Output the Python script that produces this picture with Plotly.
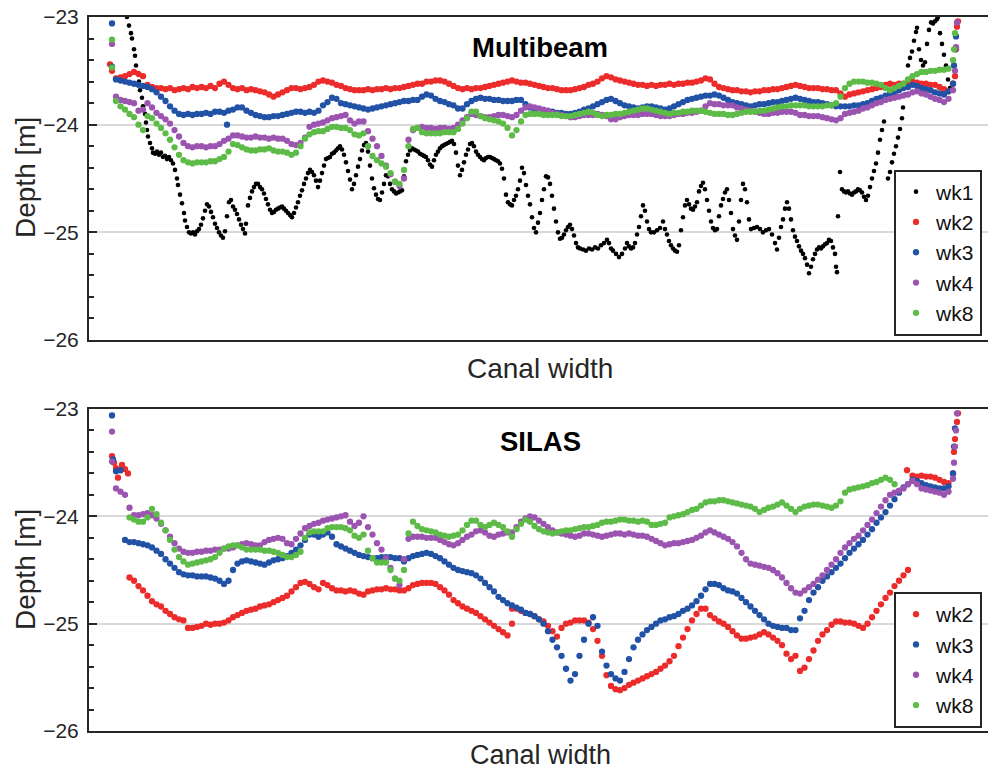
import numpy as np
import plotly.graph_objects as go

# ---------------------------------------------------------------------------
# Cross-canal sampling stations (distance across the canal, dm)
# ---------------------------------------------------------------------------
STATIONS = np.arange(27.0, 864.01, 4.5)          # 187 stations
X_RANGE = [0, 899]
Y_RANGE = [-26, -23]

# ---------------------------------------------------------------------------
# Multibeam survey depths (m) at each station, weeks 2, 3, 4, 8
# ---------------------------------------------------------------------------
MB_WK2 = [
    -23.57, -23.56, -23.55, -23.53, -23.51, -23.53, -23.55, -23.63, -23.65, -23.66,
    -23.66, -23.67, -23.66, -23.68, -23.67, -23.66, -23.67, -23.65, -23.66, -23.65,
    -23.66, -23.64, -23.66, -23.62, -23.60, -23.63, -23.66, -23.67, -23.66, -23.68,
    -23.67, -23.68, -23.69, -23.70, -23.72, -23.74, -23.72, -23.70, -23.68, -23.66,
    -23.66, -23.67, -23.66, -23.65, -23.63, -23.60, -23.59, -23.60, -23.61, -23.63,
    -23.64, -23.66, -23.67, -23.68, -23.68, -23.68, -23.67, -23.68, -23.67, -23.67,
    -23.66, -23.67, -23.66, -23.66, -23.65, -23.64, -23.63, -23.62, -23.62, -23.60,
    -23.60, -23.59, -23.59, -23.60, -23.62, -23.64, -23.66, -23.67, -23.66, -23.67,
    -23.66, -23.66, -23.65, -23.64, -23.63, -23.62, -23.61, -23.60, -23.59, -23.60,
    -23.61, -23.61, -23.62, -23.63, -23.64, -23.65, -23.66, -23.66, -23.67, -23.68,
    -23.68, -23.68, -23.67, -23.66, -23.65, -23.63, -23.62, -23.60, -23.57, -23.55,
    -23.56, -23.58, -23.59, -23.60, -23.61, -23.62, -23.63, -23.63, -23.64, -23.63,
    -23.64, -23.63, -23.63, -23.62, -23.63, -23.62, -23.62, -23.61, -23.61, -23.60,
    -23.59, -23.57, -23.58, -23.62, -23.65, -23.66, -23.67, -23.68, -23.68, -23.69,
    -23.69, -23.70, -23.69, -23.69, -23.68, -23.68, -23.67, -23.67, -23.66, -23.65,
    -23.64, -23.63, -23.64, -23.65, -23.66, -23.66, -23.66, -23.67, -23.67, -23.68,
    -23.68, -23.71, -23.74, -23.72, -23.71, -23.70, -23.69, -23.68, -23.67, -23.66,
    -23.65, -23.63, -23.62, -23.63, -23.62, -23.62, -23.61, -23.60, -23.61, -23.62,
    -23.62, -23.63, -23.63, -23.65, -23.67, -23.69, -23.62,
]
MB_WK3 = [
    -23.58, -23.59, -23.60, -23.61, -23.62, -23.63, -23.64, -23.65, -23.67, -23.70,
    -23.74, -23.78, -23.83, -23.87, -23.90, -23.91, -23.90, -23.91, -23.90, -23.90,
    -23.89, -23.90, -23.88, -23.88, -23.89, -23.87, -23.86, -23.84, -23.84, -23.87,
    -23.89, -23.91, -23.92, -23.93, -23.93, -23.92, -23.92, -23.91, -23.90, -23.89,
    -23.88, -23.88, -23.89, -23.88, -23.89, -23.87, -23.82, -23.79, -23.75, -23.76,
    -23.80, -23.81, -23.82, -23.83, -23.84, -23.85, -23.86, -23.85, -23.84, -23.83,
    -23.82, -23.81, -23.80, -23.79, -23.78, -23.78, -23.77, -23.77, -23.74, -23.72,
    -23.73, -23.76, -23.78, -23.79, -23.81, -23.82, -23.85, -23.85, -23.81, -23.78,
    -23.76, -23.75, -23.76, -23.76, -23.77, -23.77, -23.78, -23.78, -23.78, -23.77,
    -23.77, -23.81, -23.84, -23.86, -23.87, -23.87, -23.88, -23.88, -23.89, -23.89,
    -23.90, -23.90, -23.89, -23.88, -23.86, -23.85, -23.83, -23.81, -23.79, -23.77,
    -23.76, -23.78, -23.80, -23.82, -23.83, -23.84, -23.85, -23.84, -23.83, -23.83,
    -23.84, -23.85, -23.86, -23.85, -23.83, -23.81, -23.79, -23.77, -23.76, -23.75,
    -23.74, -23.73, -23.73, -23.72, -23.73, -23.75, -23.77, -23.79, -23.80, -23.81,
    -23.82, -23.83, -23.82, -23.81, -23.81, -23.80, -23.79, -23.79, -23.78, -23.77,
    -23.76, -23.75, -23.76, -23.77, -23.78, -23.79, -23.79, -23.80, -23.81, -23.82,
    -23.83, -23.83, -23.83, -23.83, -23.82, -23.82, -23.81, -23.80, -23.78, -23.76,
    -23.75, -23.73, -23.71, -23.70, -23.68, -23.66, -23.65, -23.63, -23.64, -23.66,
    -23.67, -23.68, -23.70, -23.71, -23.72, -23.69, -23.62,
]
MB_WK4 = [
    -23.74, -23.77, -23.78, -23.79, -23.80, -23.87, -23.86, -23.80, -23.84, -23.89,
    -23.92, -23.95, -23.99, -24.05, -24.11, -24.17, -24.20, -24.21, -24.20, -24.20,
    -24.21, -24.20, -24.20, -24.18, -24.15, -24.13, -24.10, -24.10, -24.11, -24.12,
    -24.12, -24.11, -24.12, -24.12, -24.13, -24.12, -24.13, -24.13, -24.15, -24.18,
    -24.19, -24.17, -24.12, -24.02, -24.00, -23.99, -23.98, -23.96, -23.94, -23.93,
    -23.92, -23.91, -23.96, -23.99, -23.97, -23.97, -24.06, -24.13, -24.20, -24.29,
    -24.38, -24.46, -24.53, -24.57, -24.50, -24.14, -24.05, -24.03, -24.02, -24.03,
    -24.03, -24.04, -24.03, -24.03, -24.04, -24.03, -24.00, -23.96, -23.93, -23.90,
    -23.91, -23.92, -23.93, -23.93, -23.92, -23.91, -23.91, -23.92, -23.93, -23.91,
    -23.87, -23.84, -23.83, -23.84, -23.85, -23.86, -23.87, -23.89, -23.90, -23.91,
    -23.92, -23.93, -23.93, -23.92, -23.91, -23.91, -23.91, -23.90, -23.91, -23.92,
    -23.95, -23.95, -23.93, -23.92, -23.91, -23.91, -23.91, -23.90, -23.90, -23.90,
    -23.91, -23.92, -23.92, -23.92, -23.91, -23.90, -23.90, -23.89, -23.89, -23.88,
    -23.87, -23.83, -23.80, -23.81, -23.81, -23.82, -23.82, -23.82, -23.84, -23.85,
    -23.86, -23.87, -23.88, -23.89, -23.90, -23.90, -23.89, -23.89, -23.88, -23.88,
    -23.88, -23.89, -23.91, -23.91, -23.92, -23.92, -23.92, -23.93, -23.94, -23.95,
    -23.96, -23.94, -23.90, -23.89, -23.88, -23.87, -23.85, -23.84, -23.82, -23.80,
    -23.79, -23.77, -23.76, -23.75, -23.74, -23.73, -23.72, -23.70, -23.69, -23.71,
    -23.72, -23.74, -23.76, -23.77, -23.79, -23.76, -23.68,
]
MB_WK8 = [
    -23.78, -23.83, -23.86, -23.90, -23.93, -24.00, -24.05, -23.92, -23.94, -23.99,
    -24.03, -24.08, -24.14, -24.21, -24.28, -24.33, -24.35, -24.36, -24.35, -24.35,
    -24.35, -24.34, -24.34, -24.32, -24.30, -24.25, -24.18, -24.19, -24.21, -24.23,
    -24.24, -24.24, -24.23, -24.23, -24.22, -24.24, -24.25, -24.25, -24.26, -24.28,
    -24.26, -24.20, -24.13, -24.09, -24.07, -24.06, -24.06, -24.04, -24.02, -24.02,
    -24.03, -24.03, -24.05, -24.09, -24.10, -24.08, -24.20, -24.29, -24.33, -24.36,
    -24.39, -24.45, -24.53, -24.55, -24.42, -24.20, -24.04, -24.03, -24.07, -24.08,
    -24.08, -24.08, -24.08, -24.07, -24.07, -24.07, -24.04, -23.99, -23.94, -23.88,
    -23.88, -23.92, -23.94, -23.95, -23.96, -23.97, -23.99, -24.03, -24.10, -24.05,
    -23.97, -23.91, -23.90, -23.90, -23.90, -23.91, -23.91, -23.91, -23.91, -23.92,
    -23.92, -23.92, -23.91, -23.90, -23.89, -23.88, -23.89, -23.91, -23.92, -23.91,
    -23.91, -23.90, -23.90, -23.89, -23.88, -23.87, -23.86, -23.85, -23.85, -23.86,
    -23.87, -23.88, -23.89, -23.90, -23.89, -23.89, -23.88, -23.88, -23.87, -23.87,
    -23.87, -23.88, -23.89, -23.90, -23.90, -23.90, -23.91, -23.91, -23.90, -23.89,
    -23.88, -23.88, -23.88, -23.87, -23.87, -23.86, -23.85, -23.84, -23.83, -23.83,
    -23.82, -23.82, -23.82, -23.82, -23.83, -23.83, -23.83, -23.83, -23.82, -23.82,
    -23.80, -23.74, -23.66, -23.62, -23.60, -23.60, -23.60, -23.61, -23.61, -23.62,
    -23.63, -23.66, -23.68, -23.66, -23.64, -23.62, -23.58, -23.55, -23.53, -23.51,
    -23.51, -23.50, -23.50, -23.49, -23.49, -23.48, -23.40,
]

# Bank soundings recorded off the station grid (x in dm, depth in m)
MB_WK2_BANK_X = [21, 23, 866, 867, 868, 869]
MB_WK2_BANK_Y = [-23.44, -23.50, -23.55, -23.30, -23.09, -23.04]
MB_WK3_BANK_X = [23, 23, 138, 865, 866, 867]
MB_WK3_BANK_Y = [-23.06, -23.46, -24.00, -23.45, -23.30, -23.18]
MB_WK4_BANK_X = [23, 866, 867, 868]
MB_WK4_BANK_Y = [-23.25, -23.50, -23.28, -23.05]
MB_WK8_BANK_X = [23, 23, 865, 866]
MB_WK8_BANK_Y = [-23.21, -23.47, -23.30, -23.15]

# Multibeam week 1 soundings (sparser, irregular spacing)
MB_WK1_X = [
    38, 40, 42, 43, 45, 46, 47, 49, 50, 51, 53, 54, 56, 57, 58, 59, 61, 63, 64, 66,
    68, 70, 72, 74, 76, 78, 80, 82, 84, 86, 88, 89, 91, 93, 95, 96, 98, 100, 102, 104,
    106, 108, 110, 112, 114, 116, 118, 120, 122, 124, 126, 128, 130, 132, 134, 136, 138, 140, 142, 144,
    146, 148, 150, 152, 154, 156, 157, 159, 161, 163, 165, 167, 169, 171, 173, 175, 177, 179, 181, 183,
    185, 187, 189, 191, 193, 195, 197, 199, 201, 203, 205, 207, 209, 211, 213, 215, 217, 219, 221, 223,
    225, 227, 229, 231, 233, 235, 237, 239, 241, 243, 245, 247, 249, 251, 253, 255, 257, 259, 261, 263,
    265, 267, 269, 271, 273, 275, 277, 279, 281, 283, 285, 287, 289, 291, 293, 295, 297, 299, 301, 303,
    305, 307, 309, 311, 313, 315, 317, 319, 321, 323, 325, 327, 329, 331, 333, 335, 337, 339, 341, 343,
    345, 347, 349, 351, 353, 355, 357, 359, 361, 363, 365, 367, 369, 371, 373, 375, 377, 379, 381, 383,
    385, 387, 389, 391, 393, 395, 397, 399, 401, 403, 405, 407, 409, 411, 413, 415, 417, 419, 421, 423,
    425, 427, 429, 431, 433, 435, 437, 439, 441, 443, 445, 447, 449, 451, 453, 455, 457, 459, 461, 463,
    465, 467, 469, 471, 473, 475, 477, 479, 481, 483, 485, 487, 489, 491, 494, 497, 500, 503, 506, 509,
    512, 515, 518, 520, 522, 524, 527, 530, 533, 536, 538, 540, 542, 544, 546, 548, 550, 552, 554, 556,
    558, 560, 562, 565, 568, 571, 574, 576, 578, 580, 582, 584, 586, 588, 590, 592, 594, 596, 598, 600,
    602, 604, 606, 608, 610, 612, 614, 616, 618, 620, 622, 624, 626, 628, 630, 632, 634, 636, 638, 640,
    642, 644, 646, 648, 650, 652, 654, 656, 658, 660, 662, 665, 668, 671, 674, 677, 680, 683, 686, 688,
    690, 692, 694, 696, 698, 700, 702, 704, 706, 708, 710, 712, 714, 716, 718, 720, 722, 724, 726, 728,
    730, 732, 734, 736, 738, 740, 742, 744, 746, 747, 748, 749, 751, 753, 755, 757, 759, 761, 763, 765,
    767, 769, 771, 773, 775, 777, 779, 781, 783, 785, 787, 789, 791, 793, 795, 799, 801, 803, 805, 807,
    809, 811, 813, 814, 816, 818, 819, 821, 823, 825, 827, 828, 830, 832, 834, 836, 838, 840, 842, 844,
    846, 848, 849, 851, 853, 855, 857, 859, 861,
]
MB_WK1_Y = [
    -23.00, -23.08, -23.15, -23.20, -23.30, -23.36, -23.45, -23.52, -23.60, -23.68,
    -23.75, -23.83, -23.90, -23.98, -24.05, -24.11, -24.17, -24.22, -24.26, -24.27,
    -24.25, -24.28, -24.26, -24.30, -24.29, -24.32, -24.30, -24.33, -24.36, -24.42,
    -24.50, -24.56, -24.65, -24.73, -24.82, -24.89, -24.95, -25.00, -25.01, -25.00,
    -25.02, -24.99, -24.97, -24.93, -24.87, -24.80, -24.74, -24.76, -24.81, -24.86,
    -24.92, -24.96, -25.00, -25.03, -25.05, -24.99, -24.85, -24.72, -24.70, -24.76,
    -24.79, -24.83, -24.88, -24.93, -24.97, -25.01, -24.92, -24.75, -24.68, -24.62,
    -24.58, -24.55, -24.55, -24.58, -24.60, -24.64, -24.69, -24.74, -24.79, -24.82,
    -24.81, -24.79, -24.78, -24.77, -24.76, -24.78, -24.80, -24.82, -24.84, -24.86,
    -24.82, -24.77, -24.72, -24.66, -24.61, -24.55, -24.50, -24.45, -24.42, -24.44,
    -24.47, -24.52, -24.58, -24.52, -24.45, -24.38, -24.32, -24.31, -24.30, -24.27,
    -24.26, -24.24, -24.22, -24.20, -24.23, -24.28, -24.35, -24.43, -24.51, -24.60,
    -24.55, -24.47, -24.39, -24.32, -24.24, -24.19, -24.17, -24.25, -24.38, -24.50,
    -24.59, -24.65, -24.69, -24.70, -24.63, -24.55, -24.47, -24.48, -24.55, -24.60,
    -24.62, -24.64, -24.63, -24.62, -24.61, -24.48, -24.34, -24.28, -24.24, -24.22,
    -24.23, -24.24, -24.25, -24.27, -24.28, -24.29, -24.30, -24.33, -24.37, -24.39,
    -24.33, -24.28, -24.25, -24.22, -24.20, -24.19, -24.18, -24.17, -24.16, -24.15,
    -24.18, -24.26, -24.38, -24.47, -24.42, -24.35, -24.28, -24.23, -24.18, -24.17,
    -24.20, -24.25, -24.28, -24.30, -24.32, -24.33, -24.31, -24.30, -24.30, -24.31,
    -24.32, -24.33, -24.34, -24.36, -24.41, -24.50, -24.65, -24.72, -24.74, -24.75,
    -24.70, -24.66, -24.60, -24.52, -24.40, -24.45, -24.56, -24.66, -24.74, -24.86,
    -24.96, -25.00, -24.91, -24.82, -24.70, -24.60, -24.48, -24.49, -24.55, -24.66,
    -24.78, -24.90, -25.00, -25.06, -25.05, -25.02, -24.98, -24.95, -24.93, -24.97,
    -25.03, -25.10, -25.14, -25.15, -25.16, -25.17, -25.15, -25.16, -25.14, -25.15,
    -25.12, -25.10, -25.07, -25.10, -25.15, -25.17, -25.20, -25.23, -25.20, -25.15,
    -25.10, -25.13, -25.15, -25.14, -25.10, -25.02, -24.95, -24.85, -24.75, -24.80,
    -24.90, -24.97, -25.00, -25.00, -24.98, -24.96, -24.90, -24.97, -25.02, -25.08,
    -25.12, -25.15, -25.17, -25.18, -25.12, -24.98, -24.86, -24.75, -24.70, -24.74,
    -24.78, -24.79, -24.76, -24.72, -24.62, -24.57, -24.54, -24.60, -24.70, -24.80,
    -24.90, -24.96, -24.98, -24.97, -24.85, -24.75, -24.69, -24.63, -24.60, -24.70,
    -24.82, -24.97, -25.03, -25.07, -24.90, -24.70, -24.55, -24.60, -24.72, -24.88,
    -24.97, -24.96, -24.95, -24.97, -25.00, -24.98, -24.97, -25.02, -25.10, -25.16,
    -25.05, -24.95, -24.88, -24.78, -24.72, -24.78, -24.88, -24.98, -25.04, -25.08,
    -25.13, -25.17, -25.20, -25.24, -25.30, -25.38, -25.32, -25.25, -25.20, -25.16,
    -25.14, -25.15, -25.13, -25.11, -25.10, -25.07, -25.08, -25.14, -25.20, -25.32,
    -25.37, -24.85, -24.44, -24.60, -24.62, -24.63, -24.62, -24.64, -24.65, -24.63,
    -24.62, -24.60, -24.61, -24.63, -24.67, -24.70, -24.66, -24.58, -24.50, -24.43,
    -24.36, -24.26, -24.14, -24.05, -23.97, -24.50, -24.44, -24.35, -24.27, -24.20,
    -24.12, -24.04, -23.94, -23.84, -23.72, -23.60, -23.45, -23.38, -23.32, -23.22,
    -23.14, -23.10, -23.30, -23.40, -23.45, -23.42, -23.25, -23.12, -23.05, -23.06,
    -23.04, -23.02, -23.00, -23.15, -23.25, -23.35, -23.45, -23.58, -23.66,
]

# ---------------------------------------------------------------------------
# SILAS survey depths (m) at each station, weeks 2, 3, 4, 8
# ---------------------------------------------------------------------------
SI_WK2 = [
    -23.55, -23.57, -23.56, -24.57, -24.60, -24.65, -24.69, -24.74, -24.79, -24.82,
    -24.84, -24.88, -24.91, -24.94, -24.96, -24.97, -25.04, -25.04, -25.03, -25.02,
    -25.00, -25.01, -25.00, -25.00, -24.99, -24.97, -24.94, -24.92, -24.90, -24.88,
    -24.87, -24.86, -24.84, -24.83, -24.82, -24.80, -24.78, -24.76, -24.74, -24.70,
    -24.66, -24.62, -24.61, -24.63, -24.66, -24.68, -24.62, -24.64, -24.67, -24.69,
    -24.69, -24.70, -24.69, -24.70, -24.72, -24.73, -24.70, -24.69, -24.68, -24.68,
    -24.67, -24.68, -24.68, -24.69, -24.69, -24.67, -24.64, -24.63, -24.62, -24.62,
    -24.62, -24.63, -24.66, -24.69, -24.73, -24.78, -24.81, -24.84, -24.86, -24.88,
    -24.90, -24.93, -24.96, -24.99, -25.02, -25.05, -25.08, -25.11, -24.86, -24.86,
    -24.88, -24.90, -24.91, -24.93, -24.96, -24.98, -25.02, -25.07, -25.12, -25.04,
    -25.00, -24.99, -24.97, -24.97, -24.97, -24.99, -25.05, -25.16, -25.30, -25.48,
    -25.58, -25.61, -25.62, -25.60, -25.57, -25.55, -25.53, -25.51, -25.49, -25.47,
    -25.45, -25.42, -25.39, -25.35, -25.30, -25.21, -25.13, -25.05, -24.97, -24.91,
    -24.86, -24.86, -24.92, -24.95, -24.98, -25.00, -25.03, -25.07, -25.11, -25.14,
    -25.14, -25.13, -25.12, -25.10, -25.08, -25.10, -25.13, -25.16, -25.20, -25.28,
    -25.33, -25.30, -25.44, -25.41, -25.33, -25.25, -25.16, -25.10, -25.06, -25.01,
    -24.98, -24.98, -24.99, -24.99, -25.00, -25.02, -25.04, -25.00, -24.94, -24.88,
    -24.82, -24.76, -24.71, -24.65, -24.60, -24.55, -24.50, -23.62, -23.63, -23.62,
    -23.63, -23.63, -23.64, -23.66, -23.68, -23.69, -23.60,
]
SI_WK3 = [
    -23.58, -23.57, -24.22, -24.24, -24.24, -24.25, -24.26, -24.27, -24.29, -24.32,
    -24.35, -24.40, -24.44, -24.48, -24.52, -24.54, -24.55, -24.55, -24.56, -24.56,
    -24.56, -24.57, -24.58, -24.60, -24.63, -24.60, -24.50, -24.44, -24.42, -24.41,
    -24.42, -24.43, -24.44, -24.45, -24.43, -24.41, -24.40, -24.39, -24.37, -24.34,
    -24.31, -24.27, -24.22, -24.17, -24.17, -24.19, -24.17, -24.15, -24.19, -24.26,
    -24.28, -24.30, -24.32, -24.34, -24.36, -24.37, -24.38, -24.39, -24.39, -24.38,
    -24.38, -24.38, -24.39, -24.39, -24.42, -24.39, -24.37, -24.36, -24.35, -24.34,
    -24.35, -24.37, -24.39, -24.42, -24.45, -24.48, -24.50, -24.51, -24.52, -24.53,
    -24.55, -24.58, -24.62, -24.66, -24.70, -24.75, -24.78, -24.81, -24.83, -24.85,
    -24.87, -24.90, -24.91, -24.93, -24.96, -25.00, -25.07, -25.15, -25.22, -25.30,
    -25.42, -25.53, -25.47, -25.30, -25.15, -25.00, -24.94, -25.02, -25.26, -25.39,
    -25.47, -25.51, -25.53, -25.45, -25.33, -25.22, -25.15, -25.10, -25.06, -25.03,
    -25.00, -24.97, -24.96, -24.94, -24.93, -24.91, -24.88, -24.86, -24.83, -24.79,
    -24.74, -24.68, -24.63, -24.63, -24.64, -24.67, -24.69, -24.70, -24.72, -24.76,
    -24.80, -24.84, -24.88, -24.92, -24.96, -25.00, -25.02, -25.03, -25.04, -25.04,
    -25.06, -25.06, -24.95, -24.88, -24.78, -24.71, -24.66, -24.60, -24.56, -24.52,
    -24.48, -24.44, -24.39, -24.34, -24.30, -24.26, -24.22, -24.17, -24.12, -24.06,
    -24.01, -23.96, -23.90, -23.84, -23.78, -23.73, -23.70, -23.66, -23.67, -23.69,
    -23.71, -23.72, -23.73, -23.74, -23.74, -23.72, -23.60,
]
SI_WK4 = [
    -23.74, -23.77, -23.80, -23.92, -23.99, -23.99, -23.98, -23.97, -23.99, -24.02,
    -24.07, -24.13, -24.19, -24.25, -24.30, -24.33, -24.34, -24.34, -24.33, -24.33,
    -24.32, -24.32, -24.31, -24.31, -24.30, -24.30, -24.29, -24.27, -24.26, -24.25,
    -24.26, -24.27, -24.27, -24.24, -24.22, -24.21, -24.20, -24.21, -24.25, -24.26,
    -24.21, -24.16, -24.11, -24.09, -24.07, -24.06, -24.04, -24.03, -24.02, -24.01,
    -24.00, -23.99, -24.05, -24.09, -24.06, -24.00, -24.10, -24.17, -24.25, -24.31,
    -24.39, -24.48, -24.58, -24.64, -24.40, -24.21, -24.19, -24.19, -24.19, -24.20,
    -24.20, -24.20, -24.22, -24.24, -24.26, -24.27, -24.25, -24.22, -24.19, -24.17,
    -24.14, -24.13, -24.15, -24.18, -24.19, -24.17, -24.16, -24.15, -24.15, -24.10,
    -24.05, -24.02, -24.00, -24.01, -24.04, -24.07, -24.10, -24.13, -24.15, -24.16,
    -24.17, -24.18, -24.19, -24.18, -24.16, -24.16, -24.17, -24.18, -24.19, -24.18,
    -24.17, -24.16, -24.16, -24.17, -24.16, -24.17, -24.18, -24.18, -24.19, -24.21,
    -24.23, -24.25, -24.27, -24.26, -24.25, -24.25, -24.24, -24.23, -24.22, -24.20,
    -24.18, -24.15, -24.13, -24.15, -24.17, -24.19, -24.21, -24.24, -24.28, -24.34,
    -24.40, -24.44, -24.45, -24.46, -24.47, -24.48, -24.50, -24.53, -24.57, -24.62,
    -24.67, -24.71, -24.72, -24.69, -24.66, -24.63, -24.59, -24.55, -24.50, -24.45,
    -24.40, -24.34, -24.29, -24.25, -24.21, -24.18, -24.13, -24.08, -24.03, -23.97,
    -23.91, -23.85, -23.80, -23.78, -23.76, -23.74, -23.70, -23.67, -23.70, -23.74,
    -23.75, -23.76, -23.77, -23.78, -23.80, -23.77, -23.65,
]
SI_WK8 = [
    None, None, None, -24.01, -24.03, -24.05, -24.05, -24.01, -23.93, -23.98,
    -24.06, -24.13, -24.22, -24.31, -24.38, -24.42, -24.45, -24.44, -24.43, -24.42,
    -24.41, -24.40, -24.38, -24.34, -24.30, -24.28, -24.27, -24.27, -24.29, -24.31,
    -24.31, -24.31, -24.31, -24.32, -24.32, -24.33, -24.34, -24.36, -24.38, -24.38,
    -24.36, -24.33, -24.20, -24.15, -24.14, -24.14, -24.14, -24.11, -24.10, -24.10,
    -24.10, -24.11, -24.13, -24.18, -24.20, -24.17, -24.32, -24.39, -24.43, -24.43,
    -24.43, -24.50, -24.58, -24.60, -24.50, -24.16, -24.05, -24.09, -24.12, -24.13,
    -24.14, -24.15, -24.17, -24.18, -24.19, -24.18, -24.17, -24.13, -24.08, -24.04,
    -24.04, -24.08, -24.10, -24.08, -24.06, -24.08, -24.10, -24.14, -24.19, -24.12,
    -24.07, -24.03, -24.05, -24.09, -24.12, -24.14, -24.15, -24.16, -24.15, -24.14,
    -24.13, -24.13, -24.12, -24.11, -24.10, -24.10, -24.09, -24.08, -24.06, -24.05,
    -24.05, -24.04, -24.03, -24.03, -24.04, -24.04, -24.05, -24.04, -24.05, -24.08,
    -24.08, -24.07, -24.06, -24.01, -24.00, -23.99, -23.98, -23.96, -23.94, -23.93,
    -23.90, -23.87, -23.86, -23.86, -23.85, -23.85, -23.86, -23.87, -23.88, -23.89,
    -23.90, -23.91, -23.93, -23.96, -23.94, -23.92, -23.91, -23.89, -23.87, -23.90,
    -23.93, -23.96, -23.93, -23.91, -23.90, -23.89, -23.89, -23.90, -23.91, -23.92,
    -23.90, -23.86, -23.78, -23.75, -23.74, -23.73, -23.72, -23.71, -23.69, -23.68,
    -23.66, -23.64, -23.66, -23.70, None, None, None, None, None, None,
    None, None, None, None, None, None, None,
]

SI_WK2_BANK_X = [23, 25, 29, 33, 39, 423, 818, 865, 866, 868, 869]
SI_WK2_BANK_Y = [-23.44, -23.50, -23.64, -23.52, -23.60, -25.00, -23.57, -23.40, -23.28, -23.12, -23.04]
SI_WK3_BANK_X = [23, 24, 865, 866]
SI_WK3_BANK_Y = [-23.06, -23.47, -23.35, -23.18]
SI_WK4_BANK_X = [23, 23, 865, 866, 867, 868]
SI_WK4_BANK_Y = [-23.21, -23.49, -23.50, -23.35, -23.20, -23.04]

WEEK_COLORS = {
    "wk1": "#000000",
    "wk2": "#EC2B2B",
    "wk3": "#2152A6",
    "wk4": "#9B55B0",
    "wk8": "#5DBB47",
}
WEEK_SIZES = {"wk1": 4.6, "wk2": 6.3, "wk3": 6.3, "wk4": 6.3, "wk8": 6.3}

FONT = "Liberation Sans, Arial, Helvetica, sans-serif"
INK = "#262626"
W, H = 988, 771
LEFT, RIGHT = 89, 988
TOP_PANEL = (17, 340)      # pixel rows of the upper axes box
BOT_PANEL = (409, 731)     # pixel rows of the lower axes box


def px_x(px):
    return (px - LEFT) / (RIGHT - LEFT)


def px_y(py):
    return 1 - py / H


def with_bank(values, bank_x=(), bank_y=()):
    x = np.concatenate([STATIONS, np.asarray(bank_x, dtype=float)])
    y = np.concatenate([np.asarray(values, dtype=float), np.asarray(bank_y, dtype=float)])
    return x, y


def dots(x, y, name, xaxis, yaxis, legend):
    return go.Scatter(
        x=x, y=y, mode="markers", name=name,
        marker=dict(color=WEEK_COLORS[name], size=WEEK_SIZES[name], line=dict(width=0)),
        xaxis=xaxis, yaxis=yaxis, legend=legend, cliponaxis=True,
    )


fig = go.Figure()

# Upper panel: Multibeam
fig.add_trace(dots(MB_WK1_X, MB_WK1_Y, "wk1", "x", "y", "legend"))
for name, vals, bx, by in [
    ("wk2", MB_WK2, MB_WK2_BANK_X, MB_WK2_BANK_Y),
    ("wk3", MB_WK3, MB_WK3_BANK_X, MB_WK3_BANK_Y),
    ("wk4", MB_WK4, MB_WK4_BANK_X, MB_WK4_BANK_Y),
    ("wk8", MB_WK8, MB_WK8_BANK_X, MB_WK8_BANK_Y),
]:
    x, y = with_bank(vals, bx, by)
    fig.add_trace(dots(x, y, name, "x", "y", "legend"))

# Lower panel: SILAS
for name, vals, bx, by in [
    ("wk2", SI_WK2, SI_WK2_BANK_X, SI_WK2_BANK_Y),
    ("wk3", SI_WK3, SI_WK3_BANK_X, SI_WK3_BANK_Y),
    ("wk4", SI_WK4, SI_WK4_BANK_X, SI_WK4_BANK_Y),
    ("wk8", SI_WK8, [], []),
]:
    x, y = with_bank(vals, bx, by)
    fig.add_trace(dots(x, y, name, "x2", "y2", "legend2"))


def x_axis(anchor):
    return dict(
        domain=[0, 1], anchor=anchor, range=X_RANGE, automargin=False,
        showline=True, linecolor=INK, linewidth=2, mirror=True,
        ticks="", showticklabels=False, showgrid=False, zeroline=False,
    )


def y_axis(panel, anchor):
    top, bot = panel
    return dict(
        domain=[px_y(bot), px_y(top)], anchor=anchor, range=Y_RANGE, automargin=False,
        tick0=-26, dtick=1, ticks="inside", ticklen=8, tickwidth=1.6, tickcolor=INK,
        minor=dict(dtick=0.2, ticks="inside", ticklen=5, tickwidth=1.6,
                   tickcolor=INK, showgrid=False),
        showline=True, linecolor=INK, linewidth=2, mirror=False,
        showgrid=True, gridcolor="#D9D9D9", gridwidth=2, zeroline=False,
        tickfont=dict(family=FONT, size=21, color=INK),
        ticklabelstandoff=4,
    )


def y_mirror(panel, overlay, anchor):
    top, bot = panel
    return dict(
        domain=[px_y(bot), px_y(top)], anchor=anchor, overlaying=overlay,
        side="right", range=Y_RANGE, tick0=-26, dtick=1, automargin=False,
        ticks="inside", ticklen=8, tickwidth=1.6, tickcolor=INK,
        minor=dict(dtick=0.2, ticks="inside", ticklen=5, tickwidth=1.6,
                   tickcolor=INK, showgrid=False),
        showline=False, showgrid=False, zeroline=False, showticklabels=False,
    )


legend_style = dict(
    xanchor="right", yanchor="middle",
    bgcolor="white", bordercolor=INK, borderwidth=2,
    font=dict(family=FONT, size=21, color="#111111"),
    itemsizing="trace",
)

fig.update_layout(
    width=W, height=H,
    margin=dict(l=LEFT, r=W - RIGHT, t=0, b=0, autoexpand=False),
    paper_bgcolor="white", plot_bgcolor="white",
    font=dict(family=FONT, color=INK),
    xaxis=x_axis("y"),
    yaxis=y_axis(TOP_PANEL, "x"),
    yaxis3=y_mirror(TOP_PANEL, "y", "x"),
    xaxis2=x_axis("y2"),
    yaxis2=y_axis(BOT_PANEL, "x2"),
    yaxis4=y_mirror(BOT_PANEL, "y2", "x2"),
    legend=dict(x=px_x(982), y=px_y(252.5), **legend_style),
    legend2=dict(x=px_x(982), y=px_y(660), **legend_style),
    showlegend=True,
)

text_items = [
    ("<b>Multibeam</b>", 540, 47, 27.5, "#000000", 0),
    ("<b>SILAS</b>", 540, 442, 27.5, "#000000", 0),
    ("Canal width", 540, 368, 28, INK, 0),
    ("Canal width", 540, 755, 27, INK, 0),
    ("Depth [m]", 25, 178, 28, INK, -90),
    ("Depth [m]", 25, 570, 28, INK, -90),
]
for text, cx, cy, size, color, angle in text_items:
    fig.add_annotation(
        text=text, xref="paper", yref="paper", x=px_x(cx), y=px_y(cy),
        xanchor="center", yanchor="middle", showarrow=False, textangle=angle,
        font=dict(family=FONT, size=size, color=color),
    )

fig.write_html("out.html")
